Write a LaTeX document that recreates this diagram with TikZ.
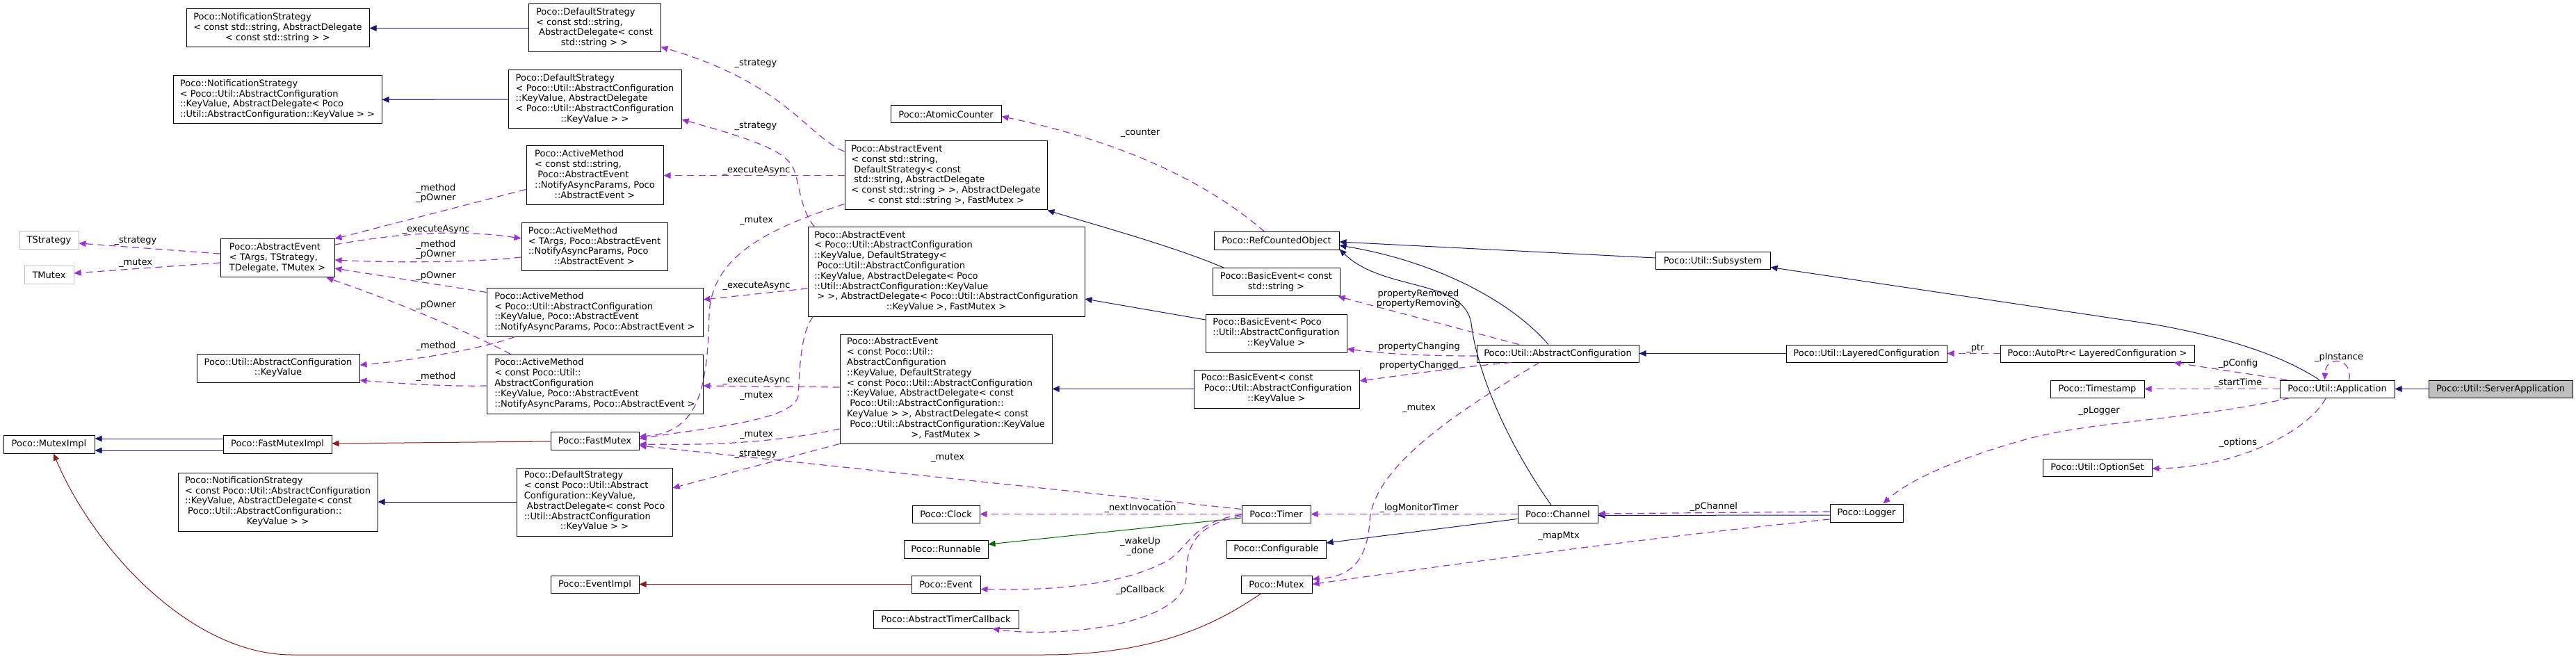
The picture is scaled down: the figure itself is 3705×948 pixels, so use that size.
\documentclass[tikz,border=0pt]{standalone}
\usepackage{fontspec}
\setmainfont{DejaVu Sans}
\usetikzlibrary{arrows.meta,calc}
\definecolor{eblue}{HTML}{191970}
\definecolor{ered}{HTML}{8B1A1A}
\definecolor{egreen}{HTML}{006400}
\definecolor{epurple}{HTML}{9A32CD}
\definecolor{tgray}{HTML}{BFBFBF}
\newcommand{\dotfont}{\fontsize{9.75pt}{11.1pt}\selectfont}
\newcommand{\cls}[1]{\begin{tabular}{@{}l@{}}#1\end{tabular}}
\newcommand{\lastln}[1]{\multicolumn{1}{@{}c@{}}{#1}}
\begin{document}
\begin{tikzpicture}[x=0.75pt,y=-0.75pt,>={Triangle[length=7.5pt,width=6.5pt]},
	box/.style={draw=black,fill=white,line width=0.75pt,inner sep=0pt,font=\dotfont},
	tparam/.style={box,draw=tgray},
	focus/.style={box,fill=tgray},
	wh/.style 2 args={minimum width=#1*0.75pt,minimum height=#2*0.75pt},
	inh/.style={->,color=eblue,line width=0.75pt},
	privinh/.style={->,color=ered,line width=0.75pt},
	runinh/.style={->,color=egreen,line width=0.75pt},
	uses/.style={->,color=epurple,line width=0.9pt,dash pattern=on 7.5pt off 5pt},
	lbl/.style={font=\dotfont,inner sep=0pt,align=center}]
	\useasboundingbox (0,0) rectangle (3705,948);
	\fill[white] (0,0) rectangle (3705,948);
	% column 1
	\node[tparam,wh={85}{26}] (tstrat) at (70.5,346) {TStrategy};
	\node[tparam,wh={71}{26}] (tmutex) at (70.5,396) {TMutex};
	\node[box,wh={131}{26}] (muteximpl) at (70.5,639) {Poco::MutexImpl};
	% column 2
	\node[box,wh={263}{55}] (ns1) at (399.5,40.5) {\cls{Poco::NotificationStrategy\\< const std::string, AbstractDelegate\\\lastln{< const std::string > >}}};
	\node[box,wh={300}{69}] (ns2) at (399,143.5) {\cls{Poco::NotificationStrategy\\< Poco::Util::AbstractConfiguration\\::KeyValue, AbstractDelegate< Poco\\\lastln{::Util::AbstractConfiguration::KeyValue > >}}};
	\node[box,wh={164}{55}] (ae0) at (399,371.5) {\cls{Poco::AbstractEvent\\< TArgs, TStrategy,\\\lastln{TDelegate, TMutex >}}};
	\node[box,wh={234}{41}] (kv) at (400,529.5) {\cls{Poco::Util::AbstractConfiguration\\\lastln{::KeyValue}}};
	\node[box,wh={156}{26}] (fastmuteximpl) at (399,639) {Poco::FastMutexImpl};
	\node[box,wh={287}{84}] (ns3) at (399.5,722) {\cls{Poco::NotificationStrategy\\< const Poco::Util::AbstractConfiguration\\::KeyValue, AbstractDelegate< const\\~Poco::Util::AbstractConfiguration::\\\lastln{KeyValue > >}}};
	% column 3
	\node[box,wh={190}{69}] (ds1) at (855,40.5) {\cls{Poco::DefaultStrategy\\< const std::string,\\~AbstractDelegate< const\\\lastln{std::string > >}}};
	\node[box,wh={249}{84}] (ds2) at (855.5,143) {\cls{Poco::DefaultStrategy\\< Poco::Util::AbstractConfiguration\\::KeyValue, AbstractDelegate\\< Poco::Util::AbstractConfiguration\\\lastln{::KeyValue > >}}};
	\node[box,wh={197}{85}] (am1) at (855.5,252.5) {\cls{Poco::ActiveMethod\\< const std::string,\\~Poco::AbstractEvent\\::NotifyAsyncParams, Poco\\\lastln{::AbstractEvent >}}};
	\node[box,wh={210}{69}] (am2) at (855,355.5) {\cls{Poco::ActiveMethod\\< TArgs, Poco::AbstractEvent\\::NotifyAsyncParams, Poco\\\lastln{::AbstractEvent >}}};
	\node[box,wh={311}{69}] (am3) at (855.5,449.5) {\cls{Poco::ActiveMethod\\< Poco::Util::AbstractConfiguration\\::KeyValue, Poco::AbstractEvent\\\lastln{::NotifyAsyncParams, Poco::AbstractEvent >}}};
	\node[box,wh={311}{85}] (am4) at (855.5,552.5) {\cls{Poco::ActiveMethod\\< const Poco::Util::\\AbstractConfiguration\\::KeyValue, Poco::AbstractEvent\\\lastln{::NotifyAsyncParams, Poco::AbstractEvent >}}};
	\node[box,wh={127}{26}] (fastmutex) at (855.5,634) {Poco::FastMutex};
	\node[box,wh={224}{98}] (ds3) at (855,722) {\cls{Poco::DefaultStrategy\\< const Poco::Util::Abstract\\Configuration::KeyValue,\\~AbstractDelegate< const Poco\\::Util::AbstractConfiguration\\\lastln{::KeyValue > >}}};
	\node[box,wh={127}{25}] (eventimpl) at (855.5,840.5) {Poco::EventImpl};
	% column 4
	\node[box,wh={159}{25}] (atomic) at (1360.5,164.5) {Poco::AtomicCounter};
	\node[box,wh={291}{99}] (ae1) at (1360.5,252.5) {\cls{Poco::AbstractEvent\\< const std::string,\\~DefaultStrategy< const\\~std::string, AbstractDelegate\\< const std::string > >, AbstractDelegate\\\lastln{< const std::string >, FastMutex >}}};
	\node[box,wh={398}{128}] (ae2) at (1361,391) {\cls{Poco::AbstractEvent\\< Poco::Util::AbstractConfiguration\\::KeyValue, DefaultStrategy<\\~Poco::Util::AbstractConfiguration\\::KeyValue, AbstractDelegate< Poco\\::Util::AbstractConfiguration::KeyValue\\~> >, AbstractDelegate< Poco::Util::AbstractConfiguration\\\lastln{::KeyValue >, FastMutex >}}};
	\node[box,wh={305}{157}] (ae3) at (1360.5,559.5) {\cls{Poco::AbstractEvent\\< const Poco::Util::\\AbstractConfiguration\\::KeyValue, DefaultStrategy\\< const Poco::Util::AbstractConfiguration\\::KeyValue, AbstractDelegate< const\\~Poco::Util::AbstractConfiguration::\\KeyValue > >, AbstractDelegate< const\\~Poco::Util::AbstractConfiguration::KeyValue\\\lastln{>, FastMutex >}}};
	\node[box,wh={97}{25}] (clock) at (1360.5,739.5) {Poco::Clock};
	\node[box,wh={121}{26}] (runnable) at (1360.5,790) {Poco::Runnable};
	\node[box,wh={99}{25}] (event) at (1360.5,840.5) {Poco::Event};
	\node[box,wh={209}{26}] (atcb) at (1360.5,891) {Poco::AbstractTimerCallback};
	% column 5
	\node[box,wh={180}{26}] (rco) at (1836,347) {Poco::RefCountedObject};
	\node[box,wh={183}{40}] (be1) at (1835.5,406) {\cls{Poco::BasicEvent< const\\\lastln{std::string >}}};
	\node[box,wh={203}{55}] (be2) at (1835.5,479.5) {\cls{Poco::BasicEvent< Poco\\::Util::AbstractConfiguration\\\lastln{::KeyValue >}}};
	\node[box,wh={238}{55}] (be3) at (1836,559.5) {\cls{Poco::BasicEvent< const\\~Poco::Util::AbstractConfiguration\\\lastln{::KeyValue >}}};
	\node[box,wh={99}{25}] (timer) at (1835.5,739.5) {Poco::Timer};
	\node[box,wh={143}{26}] (configurable) at (1835.5,790) {Poco::Configurable};
	\node[box,wh={102}{25}] (mutex) at (1836,840.5) {Poco::Mutex};
	% right part
	\node[box,wh={233}{25}] (ac) at (2240.5,508.5) {Poco::Util::AbstractConfiguration};
	\node[box,wh={115}{25}] (channel) at (2240.5,739.5) {Poco::Channel};
	\node[box,wh={165}{25}] (subsystem) at (2463.5,375.5) {Poco::Util::Subsystem};
	\node[box,wh={231}{25}] (layered) at (2684.5,508.5) {Poco::Util::LayeredConfiguration};
	\node[box,wh={105}{26}] (logger) at (2684.5,738) {Poco::Logger};
	\node[box,wh={279}{25}] (autoptr) at (3016.5,508.5) {Poco::AutoPtr< LayeredConfiguration >};
	\node[box,wh={135}{25}] (timestamp) at (3016.5,559.5) {Poco::Timestamp};
	\node[box,wh={157}{25}] (optionset) at (3016.5,672.5) {Poco::Util::OptionSet};
	\node[box,wh={165}{25}] (app) at (3361.5,559.5) {Poco::Util::Application};
	\node[focus,wh={207}{25}] (serverapp) at (3596.5,559.5) {Poco::Util::ServerApplication};

	% base classes
	\draw[inh] (ds1) -- (ns1);
	\draw[inh] (ds2) -- (ns2);
	\draw[inh] (ds3) -- (ns3);
	\draw[inh] ($(fastmuteximpl.west)+(0,-8)$) -- ($(muteximpl.east)+(0,-8)$);
	\draw[inh] ($(fastmuteximpl.west)+(0,9)$) -- ($(muteximpl.east)+(0,9)$);
	\draw[privinh] ($(fastmutex.west)+(0,1)$) -- ($(fastmuteximpl.east)+(0,-1)$);
	\draw[privinh] (event) -- (eventimpl);
	\draw[privinh] ($(mutex.south)+(-22,0)$) .. controls (1740,905) and (1650,942) .. (1500,942) -- (420,942) .. controls (275,942) and (135,790) .. ($(muteximpl.south)+(6.5,0)$);
	\draw[inh] ($(be1.north)+(-74.5,0)$) .. controls (1690,355) and (1580,325) .. (ae1.south east);
	\draw[inh] ($(be2.west)+(0,-19.5)$) -- ($(ae2.east)+(0,39)$);
	\draw[inh] (be3) -- (ae3);
	\draw[inh] ($(subsystem.west)+(0,-4.5)$) -- ($(rco.east)+(0,1)$);
	\draw[inh] ($(ac.north)+(-13.5,0)$) .. controls (2170,430) and (2060,375) .. ($(rco.east)+(0,6)$);
	\draw[inh] ($(channel.north)+(-9.5,0)$) .. controls (2170,640) and (2125,540) .. (2116,465) .. controls (2105,400) and (1990,420) .. ($(rco.south east)+(0,-2)$);
	\draw[inh] (layered) -- (ac);
	\draw[inh] ($(channel.west)+(0,7)$) -- ($(configurable.east)+(0,-9)$);
	\draw[inh] ($(logger.west)+(0,3)$) -- ($(channel.east)+(0,2)$);
	\draw[runinh] ($(timer.west)+(0,5.5)$) -- ($(runnable.east)+(0,-7)$);
	\draw[inh] ($(app.north)+(-25.5,0)$) .. controls (3280,510) and (3200,485) .. (3100,467) -- ($(subsystem.east)+(0,9)$);
	\draw[inh] (serverapp) -- (app);

	% members
	\draw[uses] ($(ae0.west)+(0,-6.5)$) -- ($(tstrat.east)+(0,4)$);
	\draw[uses] ($(ae0.west)+(0,6.5)$) -- ($(tmutex.east)+(0,-3)$);
	\draw[uses] ($(ae0.east)+(0,-19.5)$) .. controls (560,338) and (650,328) .. ($(am2.west)+(0,-12.5)$);
	\draw[uses] ($(am2.west)+(0,14.5)$) .. controls (680,378) and (560,378) .. ($(ae0.east)+(0,2.5)$);
	\draw[uses] ($(am1.west)+(0,20)$) -- (ae0.north east);
	\draw[uses] ($(am3.west)+(0,-29)$) -- ($(ae0.east)+(0,14.5)$);
	\draw[uses] ($(am4.north west)+(35,0)$) .. controls (680,480) and (560,430) .. ($(ae0.south east)+(-12,0)$);
	\draw[uses] ($(am3.south west)+(41,0)$) .. controls (700,500) and (600,518) .. ($(kv.east)+(0,-4.5)$);
	\draw[uses] ($(am4.west)+(0,2.5)$) .. controls (640,556) and (580,552) .. ($(kv.east)+(0,17.5)$);
	\draw[uses] ($(ae1.west)+(0,-34.5)$) .. controls (1160,195) and (1130,120) .. ($(ds1.south east)+(0,-8)$);
	\draw[uses] ($(ae2.north west)+(10,0)$) .. controls (1150,300) and (1150,262) .. (1141,242) .. controls (1130,220) and (1100,205) .. ($(ds2.east)+(0,29)$);
	\draw[uses] (ae1) -- (am1);
	\draw[uses] ($(ae1.south west)+(0,-9)$) .. controls (1100,330) and (1025,370) .. (1020,450) .. controls (1018,570) and (1000,622) .. ($(fastmutex.east)+(0,-6)$);
	\draw[uses] ($(ae2.west)+(0,24)$) -- ($(am3.east)+(0,-18.5)$);
	\draw[uses] ($(ae2.south west)+(8,0)$) .. controls (1150,480) and (1150,540) .. (1148,570) .. controls (1140,605) and (1020,615) .. ($(fastmutex.east)+(0,-3)$);
	\draw[uses] ($(ae3.west)+(0,-2.5)$) -- ($(am4.east)+(0,2.5)$);
	\draw[uses] ($(ae3.west)+(0,57.5)$) .. controls (1100,640) and (1000,640) .. ($(fastmutex.east)+(0,5)$);
	\draw[uses] (ae3.south west) -- ($(ds3.east)+(0,-20)$);
	\draw[uses] ($(timer.west)+(0,-7)$) -- ($(fastmutex.east)+(0,7)$);
	\draw[uses] (timer) -- (clock);
	\draw[uses] ($(timer.west)+(0,1)$) .. controls (1715,750) and (1712,785) .. (1680,806) .. controls (1620,840) and (1520,850) .. ($(event.east)+(0,7)$);
	\draw[uses] ($(timer.west)+(0,3)$) .. controls (1715,755) and (1706,790) .. (1706,830) .. controls (1706,900) and (1520,918) .. ($(atcb.south east)+(-38,0)$);
	\draw[uses] (channel) -- (timer);
	\draw[uses] ($(rco.north)+(-17,0)$) .. controls (1740,265) and (1620,205) .. ($(atomic.east)+(0,3)$);
	\draw[uses] ($(ac.north west)+(61,0)$) -- ($(be1.south east)+(-3,0)$);
	\draw[uses] ($(ac.west)+(0,3.5)$) .. controls (2060,512) and (2000,510) .. ($(be2.east)+(0,22.5)$);
	\draw[uses] ($(ac.south west)+(50,0)$) .. controls (2100,528) and (2030,538) .. ($(be3.east)+(0,-11.5)$);
	\draw[uses] ($(ac.south)+(-26.5,0)$) .. controls (2100,590) and (1975,670) .. (1970,750) .. controls (1966,810) and (1940,830) .. ($(mutex.east)+(0,-7.5)$);
	\draw[uses] ($(logger.west)+(0,9)$) .. controls (2400,770) and (2100,810) .. (mutex.east);
	\draw[uses] ($(logger.west)+(0,-2)$) -- ($(channel.east)+(0,-0.5)$);
	\draw[uses] (autoptr) -- (layered);
	\draw[uses] ($(app.north west)+(11,0)$) -- ($(autoptr.south east)+(-30,0)$);
	\draw[uses] (app) -- (timestamp);
	\draw[uses] ($(app.south west)+(15,0)$) .. controls (3150,605) and (3000,605) .. (2900,636) .. controls (2800,665) and (2740,695) .. ($(logger.north)+(24,0)$);
	\draw[uses] ($(app.south)+(-16,0)$) .. controls (3320,620) and (3220,672) .. ($(optionset.east)+(0,1.5)$);
	\draw[uses] ($(app.north)+(17,0)$) .. controls (3385,515) and (3345,510) .. ($(app.north)+(-18,0)$);

	% edge labels
	\node[lbl] (lStratT) at (195,346) {\_strategy};
	\node[lbl] (lMutexT) at (195,378) {\_mutex};
	\node[lbl] (lOwn1) at (627,278) {\_method\\\_pOwner};
	\node[lbl] (lExec0) at (627,330) {\_executeAsync};
	\node[lbl] (lOwn2) at (627,359) {\_method\\\_pOwner};
	\node[lbl] (lOwn3) at (627,397) {\_pOwner};
	\node[lbl] (lOwn4) at (627,439) {\_pOwner};
	\node[lbl] (lMeth3) at (627,498) {\_method};
	\node[lbl] (lMeth4) at (627,542) {\_method};
	\node[lbl] (lStrat1) at (1087,91) {\_strategy};
	\node[lbl] (lStrat2) at (1087,181) {\_strategy};
	\node[lbl] (lExec1) at (1088,245) {\_executeAsync};
	\node[lbl] (lMutex1) at (1088,317) {\_mutex};
	\node[lbl] (lExec2) at (1088,411) {\_executeAsync};
	\node[lbl] (lExec3) at (1088,547) {\_executeAsync};
	\node[lbl] (lMutex2) at (1088,569) {\_mutex};
	\node[lbl] (lMutex3) at (1088,625) {\_mutex};
	\node[lbl] (lStrat3) at (1087,653) {\_strategy};
	\node[lbl] (lMutexTm) at (1363,658) {\_mutex};
	\node[lbl] (lCounter) at (1640,191) {\_counter};
	\node[lbl] (lNext) at (1640,731) {\_nextInvocation};
	\node[lbl] (lWake) at (1640,786) {\_wakeUp\\\_done};
	\node[lbl] (lCallback) at (1640,849) {\_pCallback};
	\node[lbl] (lRemove) at (2040,430) {propertyRemoved\\propertyRemoving};
	\node[lbl] (lChanging) at (2041,499) {propertyChanging};
	\node[lbl] (lChanged) at (2041,526) {propertyChanged};
	\node[lbl] (lMutexAc) at (2041,587) {\_mutex};
	\node[lbl] (lMonitor) at (2041,731) {\_logMonitorTimer};
	\node[lbl] (lMapMtx) at (2242,771) {\_mapMtx};
	\node[lbl] (lChannel) at (2465,729) {\_pChannel};
	\node[lbl] (lPtr) at (2841,501) {\_ptr};
	\node[lbl] (lConfig) at (3219,523) {\_pConfig};
	\node[lbl] (lStart) at (3219,551) {\_startTime};
	\node[lbl] (lLogger) at (3019,591) {\_pLogger};
	\node[lbl] (lOptions) at (3219,637) {\_options};
	\node[lbl] (lInstance) at (3364,514) {\_pInstance};
\end{tikzpicture}
\end{document}
